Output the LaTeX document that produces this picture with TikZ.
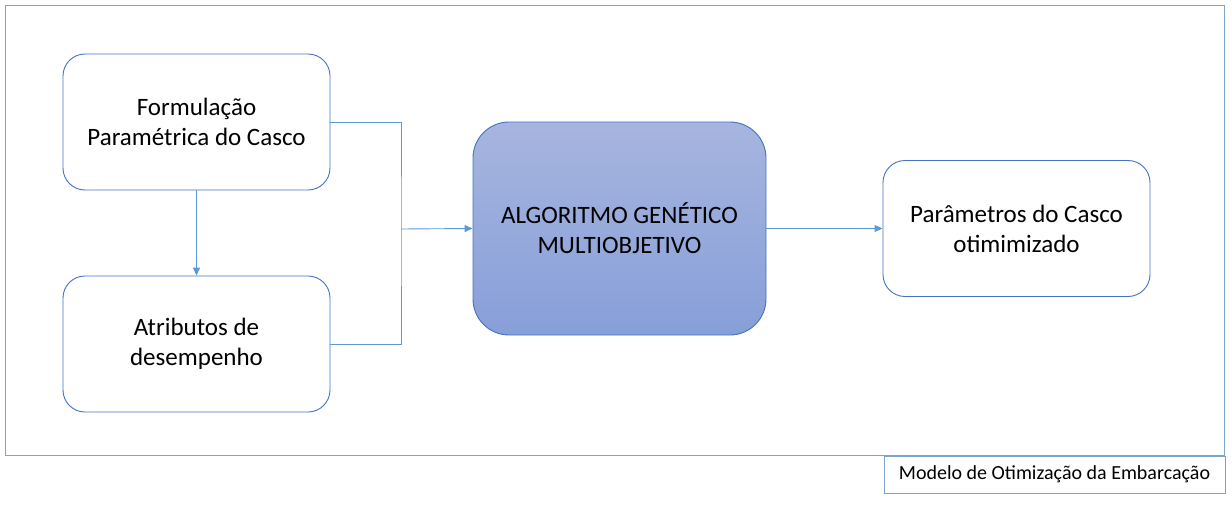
\documentclass[tikz,border=0pt]{standalone}
\usepackage{fontspec}
\setmainfont{Carlito}
\usetikzlibrary{arrows.meta,positioning}
\definecolor{boxblue}{HTML}{4472C4}
\definecolor{linkblue}{HTML}{5B9BD5}
\definecolor{frameblue}{HTML}{7FA3CF}
\definecolor{gtop}{HTML}{A7B5DF}
\definecolor{gbot}{HTML}{879FD8}
\tikzset{
  whitebox/.style={draw=boxblue, line width=0.9pt, fill=white, rounded corners=22pt,
    minimum width=267pt, minimum height=136pt, align=center, font=\fontsize{25}{30}\selectfont, inner sep=0pt},
  gabox/.style={draw=boxblue, line width=0.9pt, rounded corners=36pt, top color=gtop, bottom color=gbot,
    minimum width=293pt, minimum height=213pt, align=center, font=\fontsize{25}{30}\selectfont, inner sep=0pt},
  link/.style={draw=linkblue, line width=0.9pt},
  arr/.style={link, -{Triangle[length=8pt,width=7pt]}},
}
\begin{document}
\begin{tikzpicture}[x=1pt,y=-1pt]
\useasboundingbox (0,0) rectangle (1232,514);
\draw[frameblue, line width=1pt] (5.5,5.5) rectangle (1224.5,455.5);
\node[draw=frameblue, line width=1pt, minimum width=341pt, minimum height=37pt, anchor=north west, inner sep=0pt, font=\fontsize{20}{24}\selectfont] (lbl) at (883.5,455.5) {Modelo de Otimização da Embarcação};
\node[whitebox] (form) at (196.5,122) {Formulação\\Paramétrica do Casco};
\node[whitebox] (attr) at (196.5,344) {Atributos de\\desempenho};
\node[gabox] (ga) at (619.5,228.5) {ALGORITMO GENÉTICO\\MULTIOBJETIVO};
\node[whitebox] (out) at (1016.5,228.5) {Parâmetros do Casco\\otimimizado};
\coordinate (j) at (401,229);
\draw[link] (form.east) -| (j) |- (attr.east);
\draw[arr] (j) -- (ga.west);
\draw[arr] (ga.east) -- (out.west);
\draw[arr, line width=1.6pt] (form.south) -- (attr.north);
\end{tikzpicture}
\end{document}
